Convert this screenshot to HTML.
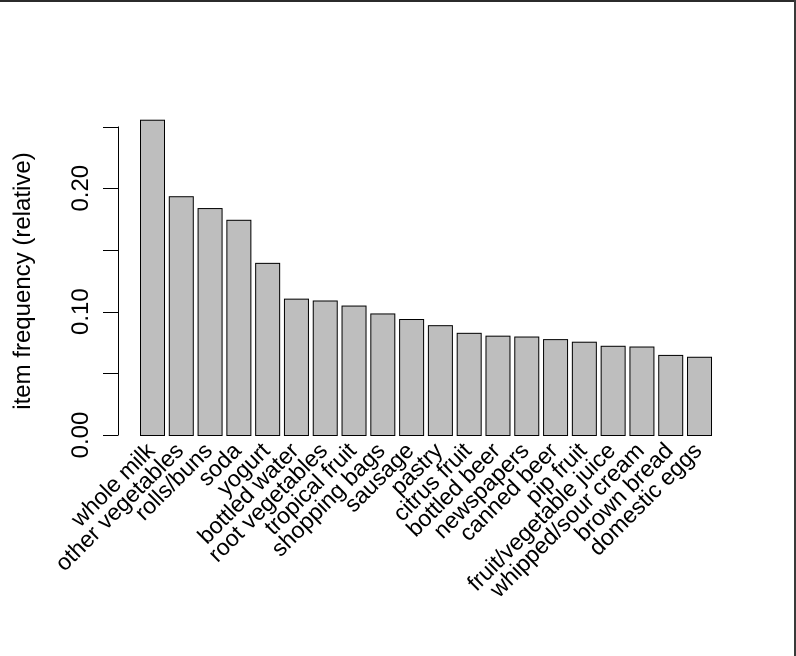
<!DOCTYPE html>
<html><head><meta charset="utf-8"><style>
body{margin:0;background:#fff}
svg{display:block;font-family:"Liberation Sans",Arial,sans-serif}
</style></head><body>
<svg id="chart" width="796" height="656">
<rect x="0" y="0" width="796" height="656" fill="#fff"/>
<rect x="0" y="0" width="796" height="2" fill="#2b2b2b"/>
<rect x="794" y="0" width="2" height="656" fill="#3a3a3a"/>
<g id="bars"></g><g id="yaxis"></g><g id="xlabels"></g>
<text x="0" y="0" transform="translate(30,281) rotate(-90)" text-anchor="middle" font-size="24" fill="#000">item frequency (relative)</text>
</svg>
<script>
const categories=["whole milk","other vegetables","rolls/buns","soda","yogurt","bottled water","root vegetables","tropical fruit","shopping bags","sausage","pastry","citrus fruit","bottled beer","newspapers","canned beer","pip fruit","fruit/vegetable juice","whipped/sour cream","brown bread","domestic eggs"];
const values=[0.2555,0.1935,0.1839,0.1744,0.1395,0.1105,0.1090,0.1049,0.0985,0.0940,0.0890,0.0828,0.0805,0.0798,0.0777,0.0756,0.0723,0.0717,0.0649,0.0634];
const yTicks=[0,0.05,0.10,0.15,0.20,0.25];
const yTickLabels=["0.00","","0.10","","0.20",""];
const NS="http://www.w3.org/2000/svg";
const y0=435,pxPer=(435-126.5)/0.25;
const yScale=v=>y0-v*pxPer;
const x0=140,pitch=28.79,bw=24;
const xScale=i=>x0+i*pitch;
function mk(t,a){const e=document.createElementNS(NS,t);for(const k in a)e.setAttribute(k,a[k]);return e;}
const bars=document.getElementById('bars'),ya=document.getElementById('yaxis'),xl=document.getElementById('xlabels');
values.forEach((v,i)=>{
 const r=mk('rect',{x:xScale(i)+0.5,y:yScale(v)+0.5,width:bw,height:y0-yScale(v),fill:'#bebebe',stroke:'#000','stroke-width':1});
 
 
 bars.appendChild(r);
 const cx=xScale(i)+bw/2+4,cy=452;
 const t=mk('text',{x:0,y:0,transform:`translate(${cx},${cy}) rotate(-45)`,'text-anchor':'end','font-size':23,fill:'#000'});
 t.textContent=categories[i];
 
 
 xl.appendChild(t);
});
const ax=mk('line',{x1:118.5,x2:118.5,y1:yScale(0.25),y2:yScale(0),stroke:'#000'});


ya.appendChild(ax);
yTicks.forEach((v,i)=>{
 const y=Math.round(yScale(v))+0.5;
 const l=mk('line',{x1:103,x2:118.5,y1:y,y2:y,stroke:'#000'});
 
 
 ya.appendChild(l);
 if(yTickLabels[i]){
  const t=mk('text',{x:0,y:0,transform:`translate(88,${yScale(v)}) rotate(-90)`,'text-anchor':'middle','font-size':24,fill:'#000'});
  t.textContent=yTickLabels[i];
  
  
  ya.appendChild(t);
 }
});
</script>
</body></html>
